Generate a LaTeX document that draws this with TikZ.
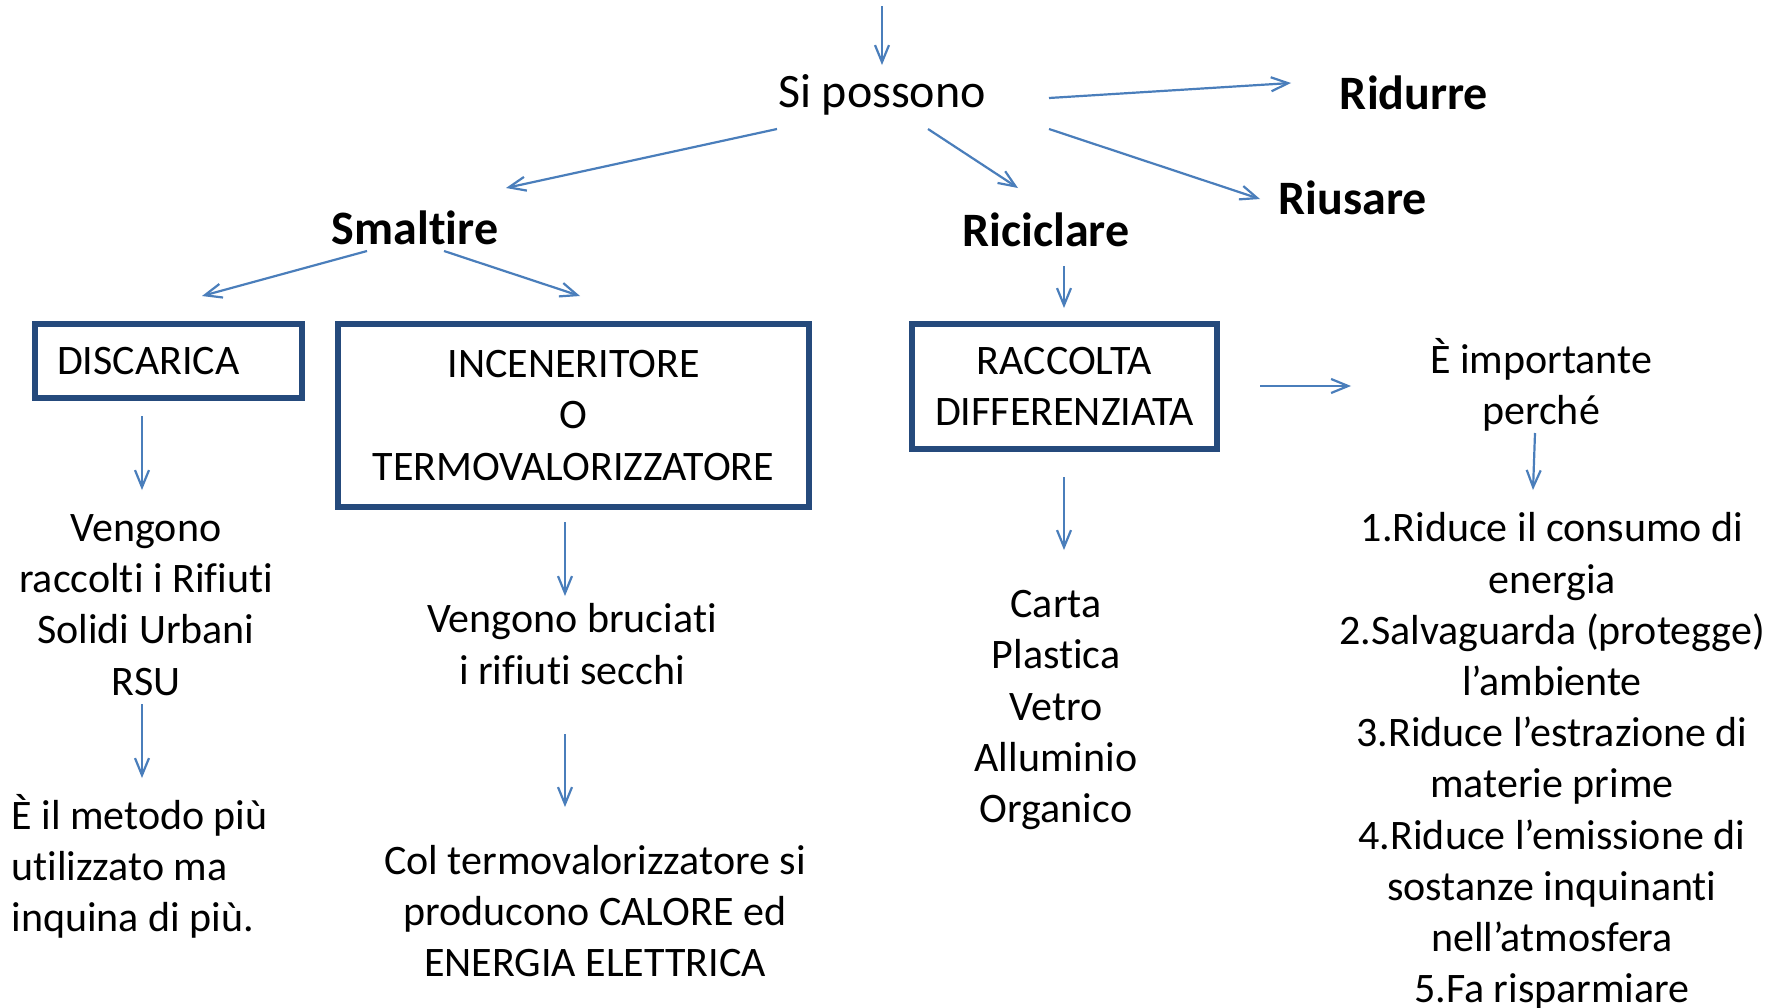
\documentclass[tikz,border=0pt]{standalone}
\usepackage{fontspec}
\setmainfont{Carlito}[Ligatures=NoCommon]
\usetikzlibrary{arrows.meta}
\definecolor{arrblue}{HTML}{4A7EBB}
\definecolor{boxblue}{HTML}{254A7C}
\begin{document}
\begin{tikzpicture}[x=0.5pt,y=-0.5pt,
  arr/.style={draw=arrblue,line width=1.1pt,-{Straight Barb[length=8.5pt,width=7pt,line width=1.1pt]}},
  txt/.style={inner sep=0pt,align=center,font=\fontsize{21}{25.6}\selectfont},
  head/.style={inner sep=0pt,font=\fontsize{24}{29}\selectfont\bfseries},
  boxn/.style={draw=boxblue,line width=2.6pt,inner sep=0pt,align=center,font=\fontsize{21}{25.6}\selectfont}]
\useasboundingbox[fill=white] (0,0) rectangle (1783,1007);
% nodes
\coordinate (topin) at (882,6);
\node[inner sep=0pt,font=\fontsize{24}{29}\selectfont] (possono) at (882,95) {Si possono};
\node[head] (smaltire) at (415,228) {Smaltire};
\node[head] (riciclare) at (1046,230) {Riciclare};
\node[head] (ridurre) at (1414,93) {Ridurre};
\node[head] (riusare) at (1353,198) {Riusare};
\node[boxn,minimum width=133.5pt,minimum height=37pt,text width=111.5pt,align=left,inner xsep=11pt] (disc) at (168.5,361) {DISCARICA};
\node[boxn,minimum width=235.5pt,minimum height=91.5pt] (incen) at (573.5,415.5) {INCENERITORE\\O\\TERMOVALORIZZATORE};
\node[boxn,minimum width=152.5pt,minimum height=62.5pt] (racc) at (1064.5,386.5) {RACCOLTA\\DIFFERENZIATA};
\node[txt] (veng) at (146,605) {Vengono\\raccolti i Rifiuti\\Solidi Urbani\\RSU};
\node[txt,align=left,anchor=west] (metodo) at (11,866.5) {È il metodo più\\utilizzato ma\\inquina di più.};
\node[txt] (bruc) at (572,644) {Vengono bruciati\\i rifiuti secchi};
\node[txt] (col) at (595,911) {Col termovalorizzatore si\\producono CALORE ed\\ENERGIA ELETTRICA};
\node[txt] (carta) at (1056,710) {Carta\\Plastica\\Vetro\\Alluminio\\Organico};
\node[txt] (imp) at (1541,385) {È importante\\perché};
\node[txt] (lista) at (1552,761) {1.Riduce il consumo di\\energia\\2.Salvaguarda (protegge)\\l’ambiente\\3.Riduce l’estrazione di\\materie prime\\4.Riduce l’emissione di\\sostanze inquinanti\\nell’atmosfera\\5.Fa risparmiare};
% connectors
\draw[arr] (topin) -- ([shift={(0,-30)}]possono.center);
\draw[arr] ([shift={(-105,34)}]possono.center) -- ([shift={(91,-40)}]smaltire.center);
\draw[arr] ([shift={(46,34)}]possono.center) -- ([shift={(-28,-42)}]riciclare.center);
\draw[arr] ([shift={(167,3)}]possono.center) -- ([shift={(-123,-10)}]ridurre.center);
\draw[arr] ([shift={(167,34)}]possono.center) -- ([shift={(-93,1)}]riusare.center);
\draw[arr] ([shift={(-48,23)}]smaltire.center) -- ([shift={(33.5,-65)}]disc.center);
\draw[arr] ([shift={(29,23)}]smaltire.center) -- ([shift={(6.5,-119.5)}]incen.center);
\draw[arr] ([shift={(18,36)}]riciclare.center) -- ([shift={(-0.5,-78.5)}]racc.center);
\draw[arr] ([shift={(-26.5,55)}]disc.center) -- ([shift={(-4,-115)}]veng.center);
\draw[arr] ([shift={(-4,99)}]veng.center) -- ([shift={(131,-88.5)}]metodo.west);
\draw[arr] ([shift={(-8.5,106.5)}]incen.center) -- ([shift={(-7,-48)}]bruc.center);
\draw[arr] ([shift={(-7,90)}]bruc.center) -- ([shift={(-30,-104)}]col.center);
\draw[arr] ([shift={(-0.5,90.5)}]racc.center) -- ([shift={(8,-160)}]carta.center);
\draw[arr] ([shift={(195.5,-0.5)}]racc.center) -- ([shift={(-190,1)}]imp.center);
\draw[arr] ([shift={(-6,48)}]imp.center) -- ([shift={(-19,-271)}]lista.center);
\end{tikzpicture}
\end{document}
